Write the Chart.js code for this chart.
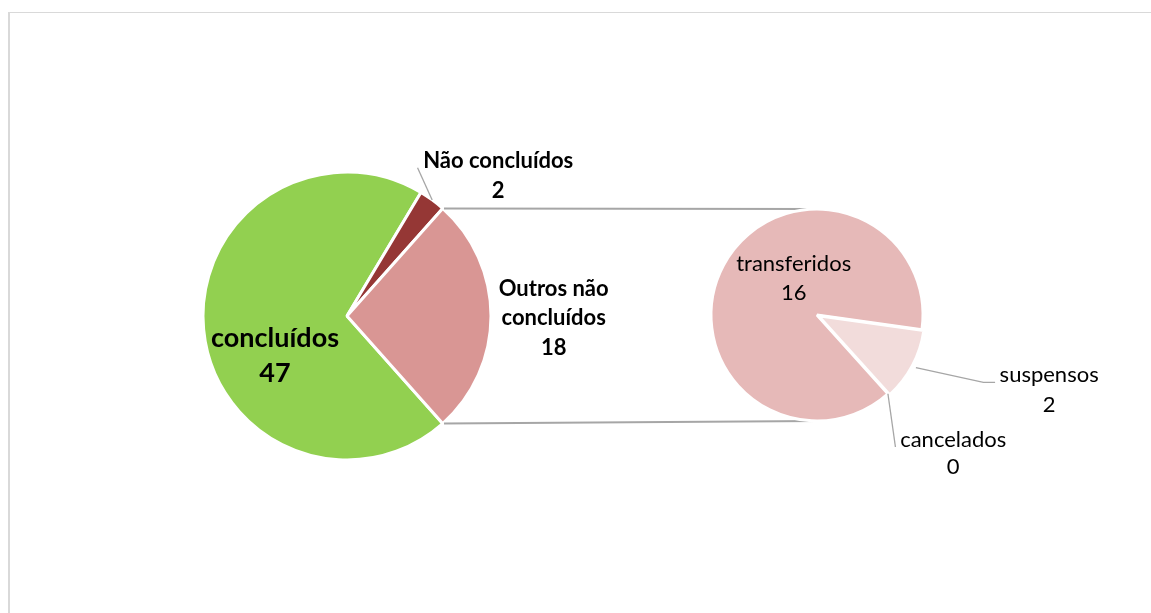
<!DOCTYPE html>
<html>
<head>
<meta charset="utf-8">
<script src="https://cdn.jsdelivr.net/npm/chart.js@4.4.1/dist/chart.umd.min.js"></script>
<style>
  html, body { margin: 0; padding: 0; background: #fff; }
  #wrap { position: relative; width: 1151px; height: 613px; overflow: hidden; }
  #frame { position: absolute; left: 8px; top: 12px; width: 1160px; height: 640px;
           border: 1px solid #d9d9d9; border-left-width: 2px; }
  canvas { position: absolute; left: 0; top: 0; }
</style>
</head>
<body>
<div id="wrap">
  <div id="frame"></div>
  <canvas id="mainPie" width="1151" height="613"></canvas>
  <canvas id="subPie" width="1151" height="613"></canvas>
</div>
<script>
// ── Data ──
const mainLabels = ['concluídos', 'Não concluídos', 'Outros não concluídos'];
const mainValues = [47, 2, 18];
const mainColors = ['#92d050', '#953735', '#d99694'];

const subLabels = ['transferidos', 'suspensos', 'cancelados'];
const subValues = [16, 2, 0];
const subColors = ['#e6b9b8', '#f2dcdb', '#f2dcdb'];

// ── Style ──
const LINE_GREY = '#a6a6a6';
const FONT = 'Lato';

// label placement in units of the pie radius, relative to the pie centre
const mainLayout = [
  { fx: -0.50, fy: 0.275, size: 27, bold: true, lh: 35, maxW: 220 },
  { fx: 1.05,  fy: -0.97, size: 22, bold: true, lh: 30, maxW: 300, leader: [[0.49, -1.03]] },
  { fx: 1.435, fy: 0.015, size: 22, bold: true, lh: 29.5, maxW: 140 },
];
const subLayout = [
  { fx: -0.22, fy: -0.345, size: 22, lh: 29 },
  { fx: 2.19,  fy: 0.71,   size: 22, lh: 30, leader: [[1.57, 0.635], [1.68, 0.635]] },
  { fx: 1.285, fy: 1.305,  size: 22, lh: 27, leader: [[0.74, 1.245]] },
];

function wrapText(ctx, text, maxW) {
  const words = text.split(' ');
  const lines = [];
  let cur = '';
  words.forEach(w => {
    const test = cur ? cur + ' ' + w : w;
    if (cur && ctx.measureText(test).width > maxW) { lines.push(cur); cur = w; }
    else cur = test;
  });
  if (cur) lines.push(cur);
  return lines;
}

// ── Labels + leader lines drawn from the arc geometry ──
const sliceLabels = {
  id: 'sliceLabels',
  afterDatasetsDraw(chart, args, opts) {
    const ctx = chart.ctx;
    const meta = chart.getDatasetMeta(0);
    const ds = chart.data.datasets[0];
    ctx.save();
    meta.data.forEach((arc, i) => {
      const lay = opts.layout[i];
      const R = arc.outerRadius;
      const cx = arc.x, cy = arc.y;
      const tx = cx + lay.fx * R, ty = cy + lay.fy * R;

      if (lay.leader) {
        const mid = (arc.startAngle + arc.endAngle) / 2;
        const off = (arc.options.offset || 0);
        ctx.beginPath();
        ctx.moveTo(cx + Math.cos(mid) * (R + off), cy + Math.sin(mid) * (R + off));
        lay.leader.forEach(p => ctx.lineTo(cx + p[0] * R, cy + p[1] * R));
        ctx.strokeStyle = LINE_GREY;
        ctx.lineWidth = 1.3;
        ctx.stroke();
      }

      ctx.font = (lay.bold ? 'bold ' : '') + lay.size + 'px ' + FONT;
      ctx.fillStyle = '#000';
      ctx.textAlign = 'center';
      ctx.textBaseline = 'middle';
      const lines = wrapText(ctx, chart.data.labels[i], lay.maxW || 300);
      lines.push(String(ds.data[i]));
      const y0 = ty - (lines.length - 1) * lay.lh / 2;
      lines.forEach((t, k) => ctx.fillText(t, tx, y0 + k * lay.lh));
    });
    ctx.restore();
  }
};

// ── Connector lines from the "Outros" slice to the secondary pie ──
let mainChart = null;
const connectors = {
  id: 'connectors',
  beforeDatasetsDraw(chart) {
    if (!mainChart) return;
    const src = mainChart.getDatasetMeta(0).data[2];
    const dst = chart.getDatasetMeta(0).data[0];
    const ctx = chart.ctx;
    const a1 = src.startAngle, a2 = src.endAngle;
    ctx.save();
    ctx.strokeStyle = LINE_GREY;
    ctx.lineWidth = 2;
    ctx.beginPath();
    ctx.moveTo(src.x + Math.cos(a1) * (src.outerRadius + 2), src.y + Math.sin(a1) * src.outerRadius);
    ctx.lineTo(dst.x, dst.y - dst.outerRadius);
    ctx.moveTo(src.x + Math.cos(a2) * (src.outerRadius + 2), src.y + Math.sin(a2) * src.outerRadius);
    ctx.lineTo(dst.x, dst.y + dst.outerRadius);
    ctx.stroke();
    ctx.restore();
  }
};

function pieOptions(padding, radius, rotation, layout) {
  return {
    responsive: false,
    animation: false,
    events: [],
    rotation: rotation,
    radius: radius,
    layout: { padding: padding },
    plugins: {
      legend: { display: false },
      tooltip: { enabled: false },
      sliceLabels: { layout: layout },
    },
  };
}

// main pie: "Outros não concluídos" centred on the right-hand side
const mainRotation = 90 + 180 * mainValues[2] / mainValues.reduce((a, b) => a + b, 0);

mainChart = new Chart(document.getElementById('mainPie').getContext('2d'), {
  type: 'pie',
  data: {
    labels: mainLabels,
    datasets: [{
      data: mainValues,
      backgroundColor: mainColors,
      borderColor: '#ffffff',
      borderWidth: 3,
    }],
  },
  options: pieOptions({ left: 200, right: 657, top: 170, bottom: 151 }, 144, mainRotation, mainLayout),
  plugins: [sliceLabels],
});

new Chart(document.getElementById('subPie').getContext('2d'), {
  type: 'pie',
  data: {
    labels: subLabels,
    datasets: [{
      data: subValues,
      backgroundColor: subColors,
      borderColor: '#ffffff',
      borderWidth: 3,
      offset: [0, 6, 0],
    }],
  },
  options: pieOptions({ left: 700, right: 217, top: 200, bottom: 183 }, 106, 138, subLayout),
  plugins: [connectors, sliceLabels],
});
</script>
</body>
</html>
